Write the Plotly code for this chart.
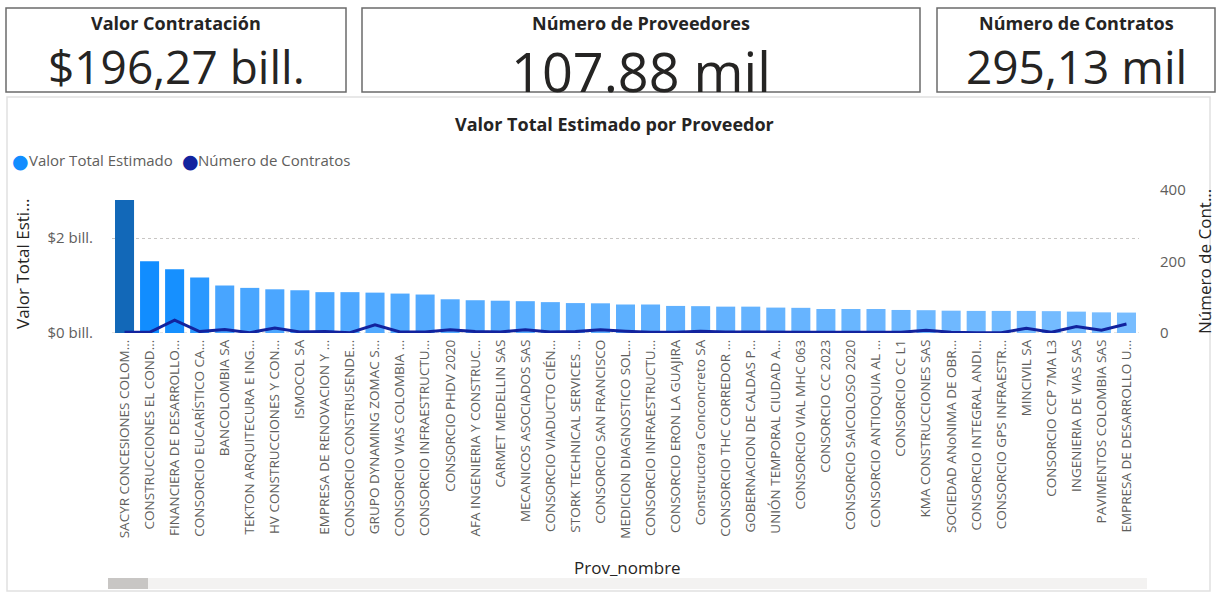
import plotly.graph_objects as go

# ---------------- data ----------------
proveedores = [
    "SACYR CONCESIONES COLOM...", "CONSTRUCCIONES EL COND...", "FINANCIERA DE DESARROLLO...",
    "CONSORCIO EUCARÍSTICO CA...", "BANCOLOMBIA SA", "TEKTON ARQUITECURA E ING...",
    "HV CONSTRUCCIONES Y CON...", "ISMOCOL SA", "EMPRESA DE RENOVACION Y ...",
    "CONSORCIO CONSTRUSENDE...", "GRUPO DYNAMING ZOMAC S...", "CONSORCIO VIAS COLOMBIA ...",
    "CONSORCIO INFRAESTRUCTU...", "CONSORCIO PHDV 2020", "AFA INGENIERIA Y CONSTRUC...",
    "CARMET MEDELLIN SAS", "MECANICOS ASOCIADOS SAS", "CONSORCIO VIADUCTO CIÉN...",
    "STORK TECHNICAL SERVICES ...", "CONSORCIO SAN FRANCISCO", "MEDICION DIAGNOSTICO SOL...",
    "CONSORCIO INFRAESTRUCTU...", "CONSORCIO ERON LA GUAJIRA", "Constructora Conconcreto SA",
    "CONSORCIO THC CORREDOR ...", "GOBERNACION DE CALDAS P...", "UNIÓN TEMPORAL CIUDAD A...",
    "CONSORCIO VIAL MHC 063", "CONSORCIO CC 2023", "CONSORCIO SAICOLOSO 2020",
    "CONSORCIO ANTIOQUIA AL ...", "CONSORCIO CC L1", "KMA CONSTRUCCIONES SAS",
    "SOCIEDAD ANoNIMA DE OBR...", "CONSORCIO INTEGRAL ANDI...", "CONSORCIO GPS INFRAESTR...",
    "MINCIVIL SA", "CONSORCIO CCP 7MA L3", "INGENIERIA DE VIAS SAS",
    "PAVIMENTOS COLOMBIA SAS", "EMPRESA DE DESARROLLO U...",
]
valor_total_bill = [
    2.80, 1.51, 1.34, 1.17, 1.00, 0.95, 0.92, 0.90, 0.86, 0.86, 0.85, 0.83, 0.81, 0.71,
    0.69, 0.68, 0.67, 0.65, 0.63, 0.625, 0.60, 0.60, 0.57, 0.565, 0.555, 0.555, 0.535,
    0.53, 0.505, 0.505, 0.505, 0.485, 0.48, 0.47, 0.465, 0.465, 0.465, 0.46, 0.45, 0.435, 0.43,
]
numero_contratos = [
    2, 2, 36, 4, 10, 1, 14, 3, 4, 1, 23, 3, 3, 9,
    4, 3, 9, 3, 4, 9, 5, 2, 2, 5, 3, 2, 2,
    2, 2, 2, 2, 2, 8, 2, 1, 1, 13, 2, 18, 8, 25,
]
left_tick_vals = [0, 2]
left_tick_text = ["$0 bill.", "$2 bill."]
right_tick_vals = [0, 200, 400]

series_names = ["Valor Total Estimado", "Número de Contratos"]
kpi_titles = ["Valor Contratación", "Número de Proveedores", "Número de Contratos"]
kpi_values = ["$196,27 bill.", "107.88 mil", "295,13 mil"]

# ---------------- style ----------------
FONT = "Open Sans"
W, H = 1217, 594
L, R, T, B = 112, 78, 183, 261
PW, PH = W - L - R, H - T - B


def xp(X):
    return (X - L) / PW


def yp(Y):
    return (H - B - Y) / PH


def mix(c1, c2, t):
    a = [int(c1[i:i + 2], 16) for i in (1, 3, 5)]
    b = [int(c2[i:i + 2], 16) for i in (1, 3, 5)]
    return "#%02X%02X%02X" % tuple(round(a[k] + (b[k] - a[k]) * t) for k in range(3))


n = len(proveedores)
bar_colors = ["#1268B8", "#118DFF", "#1690FF", "#2A98FF"]
for i in range(4, n):
    bar_colors.append(mix("#48A5FF", "#78BDFF", (i - 4) / (n - 5)))

xs = list(range(n))

fig = go.Figure()
fig.add_trace(go.Bar(
    x=xs, y=valor_total_bill, marker=dict(color=bar_colors, line=dict(width=0)),
    width=0.76, name=series_names[0], showlegend=False, yaxis="y",
))
fig.add_trace(go.Scatter(
    x=xs, y=numero_contratos, mode="lines", line=dict(color="#12239E", width=3),
    name=series_names[1], showlegend=False, yaxis="y2",
))

shapes = []
annotations = []

# KPI cards
cards = [(6, 346), (362, 920), (937, 1215)]
val_sizes = [46, 54, 46]
val_y = [66, 71, 66]
for (x0, x1), t, v, vs, vy in zip(cards, kpi_titles, kpi_values, val_sizes, val_y):
    shapes.append(dict(type="rect", xref="paper", yref="paper",
                       x0=xp(x0), x1=xp(x1), y0=yp(92), y1=yp(8),
                       line=dict(color="#6B6B6B", width=1.5), fillcolor="rgba(0,0,0,0)"))
    cx = (x0 + x1) / 2
    annotations.append(dict(xref="paper", yref="paper", x=xp(cx), y=yp(23), text="<b>%s</b>" % t,
                            showarrow=False, xanchor="center", yanchor="middle",
                            font=dict(family=FONT, size=18, color="#252423")))
    annotations.append(dict(xref="paper", yref="paper", x=xp(cx), y=yp(vy), text=v,
                            showarrow=False, xanchor="center", yanchor="middle",
                            font=dict(family=FONT, size=vs, color="#252423")))

# chart panel
shapes.append(dict(type="rect", xref="paper", yref="paper",
                   x0=xp(7), x1=xp(1210), y0=yp(591), y1=yp(97),
                   line=dict(color="#E1E1E1", width=1.5), fillcolor="rgba(0,0,0,0)", layer="below"))
# dotted baseline at $0
shapes.append(dict(type="line", xref="paper", yref="y", x0=0, x1=1, y0=0, y1=0,
                   line=dict(color="#C8C6C4", width=1, dash="dot"), layer="below"))
# scrollbar
shapes.append(dict(type="rect", xref="paper", yref="paper",
                   x0=xp(108), x1=xp(1147), y0=yp(589), y1=yp(578),
                   line=dict(width=0), fillcolor="#F3F2F1"))
shapes.append(dict(type="rect", xref="paper", yref="paper",
                   x0=xp(108), x1=xp(148), y0=yp(589), y1=yp(578),
                   line=dict(width=0), fillcolor="#C8C6C4"))

# title
annotations.append(dict(xref="paper", yref="paper", x=xp(614), y=yp(124),
                        text="<b>Valor Total Estimado por Proveedor</b>", showarrow=False,
                        xanchor="center", yanchor="middle",
                        font=dict(family=FONT, size=18, color="#252423")))
# legend
for cxp, tx, col, name in [(20, 27, "#118DFF", series_names[0]), (190, 196, "#12239E", series_names[1])]:
    annotations.append(dict(xref="paper", yref="paper", x=xp(cxp), y=yp(161), text="●",
                            showarrow=False, xanchor="center", yanchor="middle",
                            font=dict(family="DejaVu Sans", size=19, color=col)))
    annotations.append(dict(xref="paper", yref="paper", x=xp(tx), y=yp(160), text=name,
                            showarrow=False, xanchor="left", yanchor="middle",
                            font=dict(family=FONT, size=15, color="#605E5C")))
# axis titles
annotations.append(dict(xref="paper", yref="paper", x=xp(22), y=yp(264),
                        text="Valor Total Esti...", textangle=-90, showarrow=False,
                        xanchor="center", yanchor="middle",
                        font=dict(family=FONT, size=17, color="#252423")))
annotations.append(dict(xref="paper", yref="paper", x=xp(1204), y=yp(262),
                        text="Número de Cont...", textangle=-90, showarrow=False,
                        xanchor="center", yanchor="middle",
                        font=dict(family=FONT, size=17, color="#252423")))
annotations.append(dict(xref="paper", yref="paper", x=xp(627), y=yp(567),
                        text="Prov_nombre", showarrow=False,
                        xanchor="center", yanchor="middle",
                        font=dict(family=FONT, size=17, color="#252423")))

fig.update_layout(
    width=W, height=H, margin=dict(l=L, r=R, t=T, b=B, autoexpand=False),
    paper_bgcolor="white", plot_bgcolor="white",
    font=dict(family=FONT, color="#605E5C"),
    bargap=0.24,
    xaxis=dict(range=[-0.5, n - 0.5], tickvals=xs, ticktext=proveedores, tickangle=-90,
               tickfont=dict(family=FONT, size=13.5, color="#605E5C"), showgrid=False,
               zeroline=False, showline=False, ticks="", ticklabelstandoff=3),
    yaxis=dict(range=[0, PH / 47.5], tickvals=left_tick_vals, ticktext=left_tick_text,
               tickfont=dict(family=FONT, size=15, color="#605E5C"), showgrid=True,
               gridcolor="#C8C6C4", griddash="dot", gridwidth=1, zeroline=False,
               showline=False, ticks="", ticklabelstandoff=18),
    yaxis2=dict(range=[0, PH / 0.3575], overlaying="y", side="right",
                tickvals=right_tick_vals,
                tickfont=dict(family=FONT, size=15, color="#605E5C"), showgrid=False,
                zeroline=False, showline=False, ticks="", ticklabelstandoff=20),
    shapes=shapes, annotations=annotations, showlegend=False,
)

fig.write_html("out.html", config={"displayModeBar": False},
               post_script="document.body.style.margin='0';document.body.style.overflow='hidden';")
